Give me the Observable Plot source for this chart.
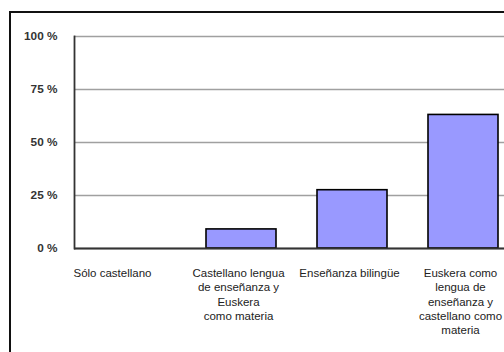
<!DOCTYPE html>
<html>
<head>
<meta charset="utf-8">
<script src="https://cdn.jsdelivr.net/npm/d3@7"></script>
<script src="https://cdn.jsdelivr.net/npm/@observablehq/plot@0.6"></script>
<style>
  html, body { margin: 0; padding: 0; background: #fff; overflow: hidden; width: 504px; height: 352px; }
  #wrap { position: relative; width: 504px; height: 352px; overflow: hidden; }
  #frame { position: absolute; left: 9px; top: 11px; width: 600px; height: 400px; border: 2px solid #111; box-sizing: border-box; }
  #chart { position: absolute; left: 0; top: 0; width: 530px; }
  #chart svg { max-width: none !important; }
</style>
</head>
<body>
<div id="wrap">
  <div id="frame"></div>
  <div id="chart"></div>
</div>
<script>
const categories = [
  "Sólo castellano",
  "Castellano lengua\nde enseñanza y\nEuskera\ncomo materia",
  "Enseñanza bilingüe",
  "Euskera como\nlengua de\nenseñanza y\ncastellano como\nmateria"
];
const values = [0, 9, 27.5, 63];
const yTicks = [0, 25, 50, 75, 100];
const yTickLabels = ["0 %", "25 %", "50 %", "75 %", "100 %"];

const data = categories.map((c, i) => ({cat: c, value: values[i]}));

const chart = Plot.plot({
  width: 530,
  height: 352,
  marginLeft: 74,
  marginRight: 12,
  marginTop: 36,
  marginBottom: 104,
  style: {fontFamily: "Liberation Sans, Arial, sans-serif", fontSize: "11px", color: "#222", background: "transparent", maxWidth: "none"},
  x: {domain: categories, paddingInner: 0.37, paddingOuter: 0.185, axis: null},
  y: {domain: [0, 100], axis: null},
  marks: [
    Plot.ruleY(yTicks, {stroke: "#a0a0a0", strokeWidth: 1.3}),
    Plot.axisY({ticks: yTicks, label: null, tickSize: 0, tickPadding: 17, tickFormat: (d) => yTickLabels[yTicks.indexOf(d)], fontWeight: "bold", fontSize: 11.8, fill: "#333"}),
    Plot.barY(data, {x: "cat", y: "value", fill: "#9999ff", stroke: "#000", strokeWidth: 1.6, filter: (d) => d.value > 0}),
    Plot.ruleY([0], {stroke: "#333", strokeWidth: 1.8}),
    Plot.text(data.slice(0, 1), {x: "cat", y: 0, text: "cat", dy: 19, dx: -18, lineAnchor: "top", lineHeight: 1.22, fontSize: 11.5, fill: "#222"}),
    Plot.text(data.slice(1), {x: "cat", y: 0, text: "cat", dy: 19, dx: -3, lineAnchor: "top", lineHeight: 1.22, fontSize: 11.5, fill: "#222"}),
    Plot.frame({anchor: "left", stroke: "#333", strokeWidth: 1.8})
  ]
});
document.getElementById("chart").appendChild(chart);
</script>
</body>
</html>
